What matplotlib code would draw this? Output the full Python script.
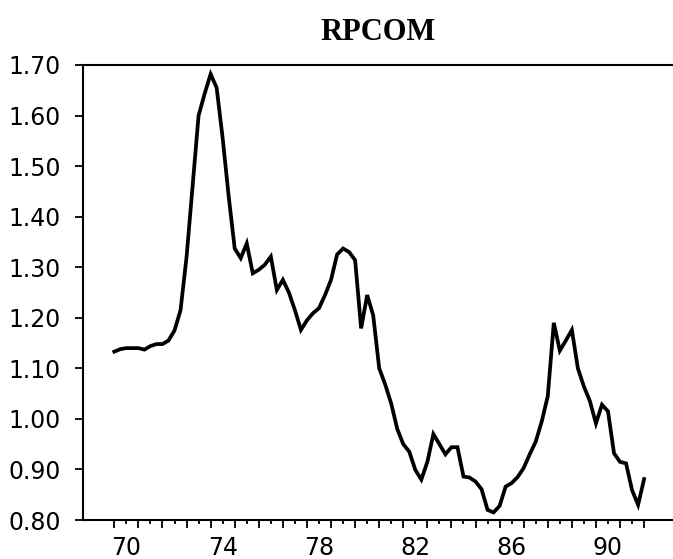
import matplotlib
matplotlib.use("Agg")
import matplotlib.pyplot as plt
import numpy as np

# quarterly values, 1970Q1 .. 1992Q1
rpcom = [1.133, 1.138, 1.140, 1.140, 1.140, 1.137, 1.144, 1.148,
         1.148, 1.155, 1.175, 1.215, 1.320, 1.460, 1.600, 1.643,
         1.682, 1.655, 1.555, 1.440, 1.337, 1.318, 1.347, 1.288,
         1.295, 1.305, 1.321, 1.255, 1.275, 1.250, 1.215, 1.176,
         1.195, 1.209, 1.219, 1.245, 1.275, 1.325, 1.337, 1.330,
         1.314, 1.179, 1.245, 1.205, 1.100, 1.068, 1.030, 0.980,
         0.950, 0.935, 0.899, 0.880, 0.915, 0.970, 0.950, 0.930,
         0.944, 0.944, 0.886, 0.884, 0.876, 0.861, 0.820, 0.815,
         0.828, 0.866, 0.873, 0.885, 0.903, 0.930, 0.955, 0.995,
         1.045, 1.190, 1.135, 1.155, 1.176, 1.100, 1.064, 1.035,
         0.991, 1.028, 1.015, 0.932, 0.915, 0.912, 0.859, 0.830,
         0.881]
start_year = 70
year_labels = [70, 74, 78, 82, 86, 90]
y_ticks = [0.80, 0.90, 1.00, 1.10, 1.20, 1.30, 1.40, 1.50, 1.60, 1.70]

t = start_year + np.arange(len(rpcom)) / 4.0

fig = plt.figure(figsize=(6.73, 5.59), dpi=100)
ax = fig.add_axes([83/673, 39/559, 1 - 83/673, 455/559])

ax.plot(t, rpcom, color="black", lw=2.7, solid_joinstyle="miter")

ax.set_xlim(68.7, 93.2)
ax.set_ylim(0.80, 1.70)

ax.spines["right"].set_visible(False)
for s in ["left", "top", "bottom"]:
    ax.spines[s].set_linewidth(1.5)

# year ticks with half-year minor ticks, labels centred on the year
ax.set_xticks(np.arange(70, 93, 1))
ax.set_xticklabels([])
ax.set_xticks(np.arange(70.5, 92, 1), minor=True)
ax.tick_params(axis="x", which="major", direction="out", length=6, width=1.3)
ax.tick_params(axis="x", which="minor", direction="out", length=3, width=1.3)
for yr in year_labels:
    ax.text(yr + 0.5, -0.035, str(yr), transform=ax.get_xaxis_transform(),
            ha="center", va="top", fontsize=17)

ax.set_yticks(y_ticks)
ax.set_yticklabels(["%.2f" % v for v in y_ticks], fontsize=17)
ax.tick_params(axis="y", direction="out", length=6, width=1.3, pad=10)

fig.text((83 + 673) / 2 / 673, 1 - 33/559, "RPCOM", ha="center", va="center",
         fontsize=22, fontweight="bold", family="Liberation Serif")

fig.savefig("out.png", dpi=100)
